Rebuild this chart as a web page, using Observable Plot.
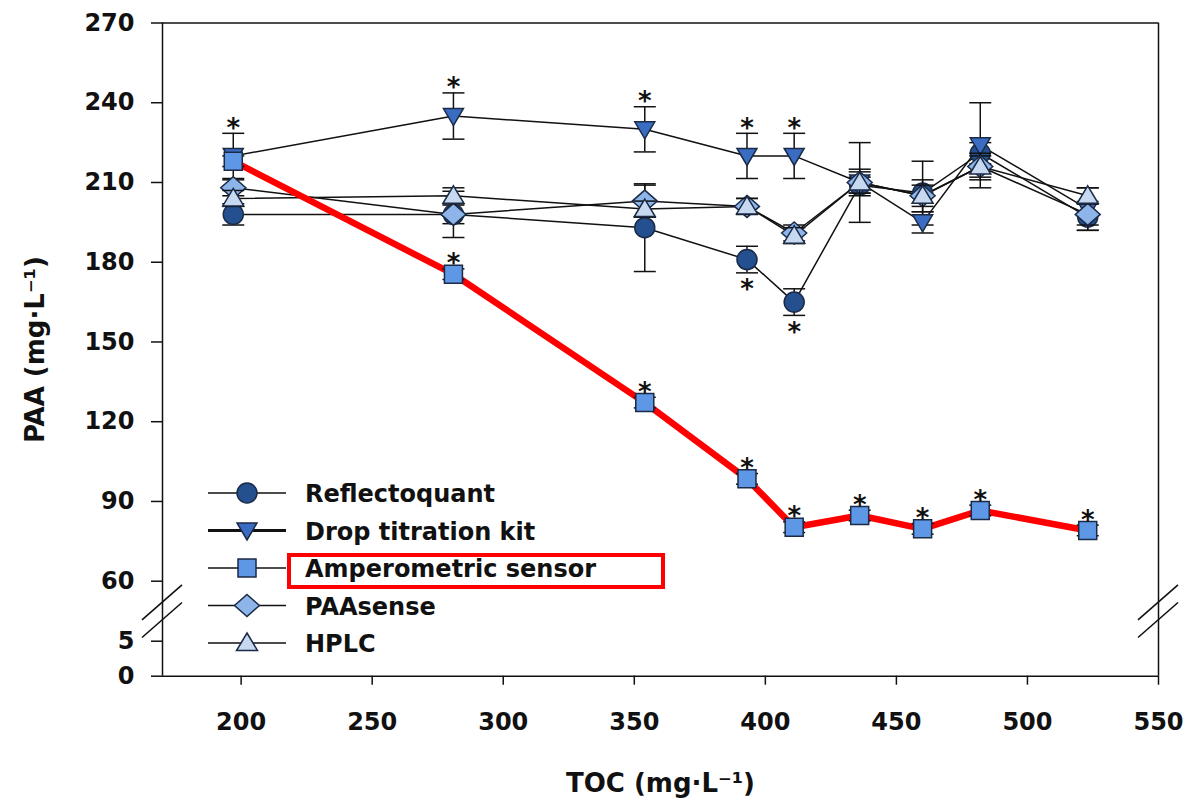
<!DOCTYPE html>
<html><head><meta charset="utf-8">
<script src="https://cdn.jsdelivr.net/npm/d3@7"></script>
<script src="https://cdn.jsdelivr.net/npm/@observablehq/plot@0.6"></script>
<style>body{margin:0;background:#fff}#chart{width:1192px;height:802px}</style>
</head><body><div id="chart"></div>
<script>
// ---- data ----
const toc = [197, 281, 354, 393, 411, 436, 460, 482, 523];
const seriesNames = ["Reflectoquant", "Drop titration kit", "Amperometric sensor", "PAAsense", "HPLC"];
const reflectoquant    = [198, 198, 193, 181, 165, 209, 206, 221, 197];
const reflectoquantErr = [4, 3.5, 16.5, 5, 5, 3, 12, 4, 5];
const dropTitration    = [220, 235, 230, 220, 220, 210, 195, 224, 200];
const dropTitrationErr = [8.5, 8.7, 8.5, 8.5, 8.5, 15, 4, 16, 8];
const amperometric     = [218, 175.5, 127.2, 98.5, 80.3, 84.7, 79.7, 86.6, 79.1];
const amperometricErr  = [2, 2, 2, 2, 2, 2, 2, 2, 2];
const paaSense         = [208, 198, 203, 201, 191, 210, 205, 216, 198];
const paaSenseErr      = [3, 8.7, 6, 3, 3, 4, 6, 4, 4];
const hplc             = [204, 205, 200, 201, 190, 210, 205, 216, 205];
const hplcErr          = [3, 3, 3, 3, 3, 5, 4, 5, 3];
// significance marks (*)
const reflectoquantSig = [0, 0, 0, 1, 1, 0, 0, 0, 0];
const dropTitrationSig = [1, 1, 1, 1, 1, 0, 0, 0, 0];
const amperometricSig  = [0, 1, 1, 1, 1, 1, 1, 1, 1];
const noSig            = [0, 0, 0, 0, 0, 0, 0, 0, 0];
const xTicks = [200, 250, 300, 350, 400, 450, 500, 550];
const yTicks = [0, 5, 60, 90, 120, 150, 180, 210, 240, 270];
const xTitle = "TOC (mg·L⁻¹)";
const yTitle = "PAA (mg·L⁻¹)";

// ---- symbols ----
const poly = pts => ({draw(ctx, size) {
  const r = Math.sqrt(size / Math.PI);
  ctx.moveTo(pts[0][0] * r, pts[0][1] * r);
  for (let i = 1; i < pts.length; i++) ctx.lineTo(pts[i][0] * r, pts[i][1] * r);
  ctx.closePath();
}});
const circleSym = d3.symbolCircle;
const squareSym = poly([[-0.9, -0.9], [0.9, -0.9], [0.9, 0.9], [-0.9, 0.9]]);
const diamondSym = poly([[0, -1.1], [1.25, 0], [0, 1.1], [-1.25, 0]]);
const triUpSym = poly([[0, -1.0], [1.05, 0.75], [-1.05, 0.75]]);
const triDownSym = poly([[-1.0, -0.75], [1.0, -0.75], [0, 0.95]]);
const capSym = {draw(ctx, size) {
  const r = Math.sqrt(size / Math.PI);
  ctx.moveTo(-1.1 * r, 0); ctx.lineTo(1.1 * r, 0);
}};

const series = [
  {name: seriesNames[0], values: reflectoquant, err: reflectoquantErr, sig: reflectoquantSig, side: -1, symbol: circleSym,  fill: "#24508f", legendWidth: 1.5},
  {name: seriesNames[1], values: dropTitration, err: dropTitrationErr, sig: dropTitrationSig, side: 1,  symbol: triDownSym, fill: "#3a6cc2", legendWidth: 2.8},
  {name: seriesNames[2], values: amperometric,  err: amperometricErr,  sig: amperometricSig,  side: 1,  symbol: squareSym,  fill: "#5e97e6", legendWidth: 1.5},
  {name: seriesNames[3], values: paaSense,      err: paaSenseErr,      sig: noSig,            side: 1,  symbol: diamondSym, fill: "#8db5ea", legendWidth: 1.5},
  {name: seriesNames[4], values: hplc,          err: hplcErr,          sig: noSig,            side: 1,  symbol: triUpSym,   fill: "#c6d9f1", legendWidth: 1.5}
];
series.forEach(s => {
  s.rows = toc.map((t, i) => ({series: s.name, toc: t, value: s.values[i], err: s.err[i], sig: s.sig[i], side: s.side}));
});
const starRows = series.flatMap(s => s.rows.filter(d => d.sig));

const INK = "#111";
const EDGE = "#1b2a45";

// ---- decorations drawn from plot dimensions ----
function breakMarks(index, scales, values, dim) {
  const g = d3.create("svg:g").attr("stroke", INK).attr("stroke-width", 1.6).attr("fill", "none");
  const yMid = (scales.y(5) + scales.y(60)) / 2;
  for (const xp of [dim.marginLeft, dim.width - dim.marginRight]) {
    for (const off of [-8.3, 9.3]) {
      g.append("line")
        .attr("x1", xp - 20).attr("y1", yMid + off + 17.5)
        .attr("x2", xp + 20).attr("y2", yMid + off - 17.5);
    }
  }
  return g.node();
}

function legendMark(index, scales, values, dim) {
  const g = d3.create("svg:g");
  const x0 = dim.marginLeft;
  const y0 = dim.marginTop + 470.5;
  const step = 37.5;
  series.forEach((s, i) => {
    const cy = y0 + i * step;
    g.append("line").attr("x1", x0 + 46).attr("x2", x0 + 124).attr("y1", cy).attr("y2", cy)
      .attr("stroke", INK).attr("stroke-width", s.legendWidth);
    g.append("path").attr("transform", `translate(${x0 + 85},${cy})`)
      .attr("d", d3.symbol(s.symbol, Math.PI * 100)())
      .attr("fill", s.fill).attr("stroke", EDGE).attr("stroke-width", 1.5);
    g.append("text").attr("x", x0 + 143).attr("y", cy + 9)
      .attr("text-anchor", "start")
      .attr("fill", INK).attr("font-size", 24).attr("font-weight", "bold")
      .text(s.name);
  });
  const cy2 = y0 + 2 * step;
  g.append("rect").attr("x", x0 + 127).attr("y", cy2 - 13).attr("width", 374).attr("height", 32)
    .attr("fill", "none").attr("stroke", "#ff0000").attr("stroke-width", 4);
  return g.node();
}

const marks = [
  // frame
  Plot.ruleY([270], {stroke: INK, strokeWidth: 1.5}),
  Plot.ruleX([550], {stroke: INK, strokeWidth: 1.5}),
  Plot.ruleX([170], {stroke: INK, strokeWidth: 1.5}),
  Plot.ruleY([0], {stroke: INK, strokeWidth: 1.5}),
  breakMarks,
  // series lines
  ...series.map(s => Plot.line(s.rows, {x: "toc", y: "value", stroke: INK, strokeWidth: 1.5})),
  Plot.line(series[2].rows, {x: "toc", y: "value", stroke: "#ff0000", strokeWidth: 6.5, strokeLinejoin: "round"}),
  // error bars and markers
  ...series.flatMap(s => [
    Plot.ruleX(s.rows, {x: "toc", y1: d => d.value - d.err, y2: d => d.value + d.err, stroke: INK, strokeWidth: 1.5}),
    Plot.dot(s.rows, {x: "toc", y: d => d.value + d.err, symbol: capSym, r: 10, fill: "none", stroke: INK, strokeWidth: 1.5}),
    Plot.dot(s.rows, {x: "toc", y: d => d.value - d.err, symbol: capSym, r: 10, fill: "none", stroke: INK, strokeWidth: 1.5}),
    Plot.dot(s.rows, {x: "toc", y: "value", symbol: s.symbol, r: 10, fill: s.fill, stroke: EDGE, strokeWidth: 1.5})
  ]),
  // significance asterisks
  Plot.text(starRows.filter(d => d.side > 0), {x: "toc", y: d => d.value + d.err, text: () => "*", lineAnchor: "bottom", dy: 3.5, fontSize: 26, fontWeight: "bold", fill: INK}),
  Plot.text(starRows.filter(d => d.side < 0), {x: "toc", y: d => d.value - d.err, text: () => "*", lineAnchor: "bottom", dy: 25.5, fontSize: 26, fontWeight: "bold", fill: INK}),
  // axes
  Plot.axisX({ticks: xTicks, tickSize: 9, tickPadding: 28, strokeWidth: 1.5, label: null, tickFormat: d => String(d), fontSize: 24, fontWeight: "bold"}),
  Plot.axisY({ticks: yTicks, tickSize: 11, tickPadding: 17, strokeWidth: 1.5, label: null, tickFormat: d => String(d), fontSize: 24, fontWeight: "bold"}),
  Plot.text([xTitle], {frameAnchor: "bottom", textAnchor: "middle", dy: 116, lineAnchor: "bottom", fontSize: 26, fontWeight: "bold", fill: INK}),
  Plot.text([yTitle], {frameAnchor: "left", textAnchor: "middle", rotate: -90, dx: -127, lineAnchor: "middle", fontSize: 26, fontWeight: "bold", fill: INK}),
  legendMark
];

const W = 1192, H = 802, mL = 162, mR = 34, mT = 22.5, mB = 126.3;
const yBottom = H - mB;
const chart = Plot.plot({
  width: W, height: H,
  marginLeft: mL, marginRight: mR, marginTop: mT, marginBottom: mB,
  style: {fontFamily: "'DejaVu Sans', sans-serif", fontSize: "24px", fontWeight: "bold", color: INK, background: "#fff", overflow: "visible"},
  x: {domain: [170, 550]},
  y: {type: "linear", domain: [0, 5, 60, 270], range: [yBottom, yBottom - 35, yBottom - 95, mT]},
  marks
});
document.getElementById("chart").appendChild(chart);
</script>
</body></html>
